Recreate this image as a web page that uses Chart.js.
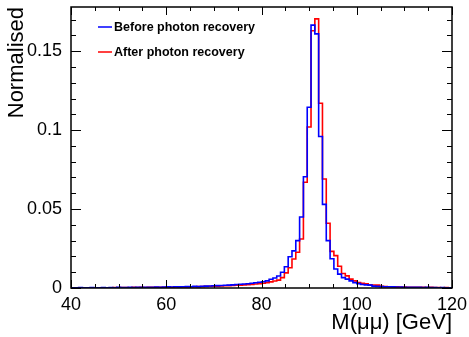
<!DOCTYPE html>
<html>
<head>
<meta charset="utf-8">
<script src="https://cdn.jsdelivr.net/npm/chart.js@4.4.0/dist/chart.umd.min.js"></script>
<style>
  html, body { margin: 0; padding: 0; background: #fff; }
  #wrap { width: 469px; height: 337px; }
</style>
</head>
<body>
<div id="wrap"><canvas id="histo" width="469" height="337"></canvas></div>
<script>
// histogram binning: 100 bins of 0.8 GeV from 40 to 120
const binStart = 40;
const binWidth = 0.8;

const beforeRecovery = [
  0.0002, 0.0001, 0.0003, 0.0002, 0.0001, 0.0003, 0.0002, 0.0002, 0.0003, 0.0002,
  0.0003, 0.0002, 0.0004, 0.0003, 0.0003, 0.0004, 0.0003, 0.0005, 0.0004, 0.0004,
  0.0005, 0.0004, 0.0006, 0.0005, 0.0006, 0.0007, 0.0006, 0.0008, 0.0007, 0.0008,
  0.0009, 0.0008, 0.0010, 0.0009, 0.0011, 0.0012, 0.0013, 0.0014, 0.0015, 0.0016,
  0.0017, 0.0018, 0.0020, 0.0022, 0.0024, 0.0025, 0.0027, 0.0030, 0.0033, 0.0036,
  0.0040, 0.0045, 0.0055, 0.0063, 0.0076, 0.0100, 0.0135, 0.0198, 0.0235, 0.0300,
  0.0450, 0.0705, 0.1145, 0.1665, 0.1610, 0.0960, 0.0530, 0.0300, 0.0185, 0.0120,
  0.0088, 0.0066, 0.0056, 0.0045, 0.0034, 0.0028, 0.0022, 0.0020, 0.0018, 0.0012,
  0.0010, 0.0009, 0.0008, 0.0008, 0.0007, 0.0006, 0.0006, 0.0005, 0.0005, 0.0004,
  0.0004, 0.0004, 0.0003, 0.0004, 0.0003, 0.0003, 0.0002, 0.0003, 0.0002, 0.0002
];

const afterRecovery = [
  0.0001, 0.0002, 0.0001, 0.0002, 0.0001, 0.0002, 0.0002, 0.0001, 0.0002, 0.0002,
  0.0002, 0.0003, 0.0002, 0.0003, 0.0003, 0.0002, 0.0004, 0.0003, 0.0004, 0.0003,
  0.0004, 0.0005, 0.0004, 0.0005, 0.0005, 0.0006, 0.0005, 0.0006, 0.0007, 0.0006,
  0.0007, 0.0008, 0.0008, 0.0009, 0.0009, 0.0010, 0.0011, 0.0011, 0.0012, 0.0013,
  0.0014, 0.0015, 0.0016, 0.0017, 0.0018, 0.0020, 0.0021, 0.0023, 0.0025, 0.0027,
  0.0030, 0.0034, 0.0039, 0.0044, 0.0050, 0.0066, 0.0096, 0.0128, 0.0184, 0.0226,
  0.0310, 0.0670, 0.1020, 0.1630, 0.1705, 0.1170, 0.0690, 0.0410, 0.0232, 0.0205,
  0.0138, 0.0092, 0.0077, 0.0056, 0.0045, 0.0034, 0.0029, 0.0027, 0.0020, 0.0019,
  0.0018, 0.0010, 0.0009, 0.0008, 0.0008, 0.0007, 0.0006, 0.0006, 0.0005, 0.0005,
  0.0004, 0.0005, 0.0004, 0.0003, 0.0004, 0.0003, 0.0003, 0.0002, 0.0003, 0.0002
];

const xTicks = [40, 60, 80, 100, 120];
const yTicks = [0, 0.05, 0.1, 0.15];
const yTickLabels = ['0', '0.05', '0.1', '0.15'];

const FONT = "'Liberation Sans', Arial, Helvetica, sans-serif";

// step outline: one point per bin low edge, plus the upper edge of the last bin
function toSteps(values) {
  const pts = values.map((v, i) => ({ x: binStart + i * binWidth, y: v }));
  pts.push({ x: binStart + values.length * binWidth, y: values[values.length - 1] });
  return pts;
}

// ROOT-like frame with inward ticks on all four sides, plus the legend
const rootFrame = {
  id: 'rootFrame',
  afterDatasetsDraw(chart) {
    const { ctx, chartArea: a, scales } = chart;
    const xs = scales.x, ys = scales.y;
    ctx.save();
    ctx.strokeStyle = '#000';
    ctx.lineWidth = 1;
    ctx.beginPath();
    for (let v = xs.min; v <= xs.max + 1e-9; v += 5) {
      const px = Math.round(xs.getPixelForValue(v)) + 0.5;
      const len = (v % 20 === 0) ? 8 : 4;
      ctx.moveTo(px, a.bottom); ctx.lineTo(px, a.bottom - len);
      ctx.moveTo(px, a.top); ctx.lineTo(px, a.top + len);
    }
    for (let i = 0; i * 0.01 <= ys.max; i++) {
      const py = Math.round(ys.getPixelForValue(i * 0.01)) + 0.5;
      const len = (i % 5 === 0) ? 10 : 5;
      ctx.moveTo(a.left, py); ctx.lineTo(a.left + len, py);
      ctx.moveTo(a.right, py); ctx.lineTo(a.right - len, py);
    }
    ctx.stroke();
    ctx.lineWidth = 1.5;
    ctx.strokeRect(a.left, a.top, a.right - a.left, a.bottom - a.top);

    // legend
    ctx.font = 'bold 12.5px ' + FONT;
    ctx.textBaseline = 'middle';
    ctx.textAlign = 'left';
    chart.data.datasets.forEach((ds, i) => {
      const yy = 27 + i * 25;
      ctx.strokeStyle = ds.borderColor;
      ctx.lineWidth = 1.5;
      ctx.beginPath();
      ctx.moveTo(98, yy); ctx.lineTo(112, yy);
      ctx.stroke();
      ctx.fillStyle = '#000';
      ctx.fillText(ds.label, 114, yy + 1);
    });
    ctx.restore();
  }
};

new Chart(document.getElementById('histo'), {
  type: 'line',
  data: {
    datasets: [
      {
        label: 'Before photon recovery',
        data: toSteps(beforeRecovery),
        borderColor: '#0000ff',
        borderWidth: 1.6,
        stepped: 'before',
        pointRadius: 0,
        fill: false
      },
      {
        label: 'After photon recovery',
        data: toSteps(afterRecovery),
        borderColor: '#ff0000',
        borderWidth: 1.6,
        stepped: 'before',
        pointRadius: 0,
        fill: false
      }
    ]
  },
  options: {
    responsive: false,
    animation: false,
    devicePixelRatio: 1,
    layout: { padding: { left: 0, top: 7, right: 17, bottom: 0 } },
    plugins: { legend: { display: false }, tooltip: { enabled: false } },
    scales: {
      x: {
        type: 'linear',
        min: 40,
        max: 120,
        grid: { display: false, drawTicks: false },
        border: { display: false },
        afterFit: s => { s.height = 49; s.paddingLeft = 0; s.paddingRight = 0; },
        afterBuildTicks: s => { s.ticks = xTicks.map(v => ({ value: v })); },
        ticks: {
          padding: 6,
          maxRotation: 0,
          autoSkip: false,
          color: '#000',
          font: { family: FONT, size: 18 },
          callback: v => String(v)
        },
        title: {
          display: true,
          text: 'M(μμ) [GeV]',
          align: 'end',
          color: '#000',
          font: { family: FONT, size: 22 },
          padding: { top: 0, bottom: 1 }
        }
      },
      y: {
        min: 0,
        max: 0.178,
        grid: { display: false, drawTicks: false },
        border: { display: false },
        afterFit: s => { s.width = 71; s.paddingTop = 0; s.paddingBottom = 0; },
        afterBuildTicks: s => { s.ticks = yTicks.map(v => ({ value: v })); },
        ticks: {
          padding: 9,
          autoSkip: false,
          color: '#000',
          font: { family: FONT, size: 18 },
          callback: (v, i) => yTickLabels[i]
        },
        title: {
          display: true,
          text: 'Normalised',
          align: 'end',
          color: '#000',
          font: { family: FONT, size: 22 },
          padding: { top: 4, bottom: 0 }
        }
      }
    }
  },
  plugins: [rootFrame]
});
</script>
</body>
</html>
